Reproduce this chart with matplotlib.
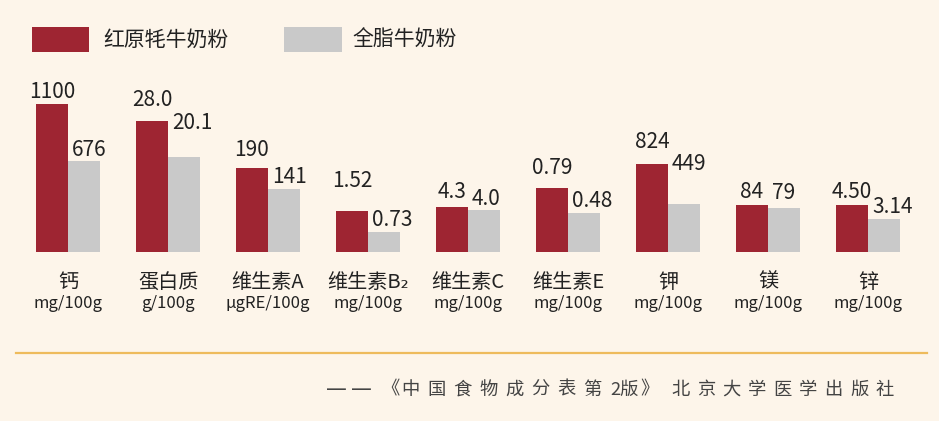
import numpy as np
import matplotlib
matplotlib.use("Agg")
import matplotlib.pyplot as plt
from matplotlib.patches import Rectangle
from matplotlib.lines import Line2D

plt.rcParams['font.family'] = ['Noto Sans CJK SC', 'DejaVu Sans']

# data
nutrients = ["钙", "蛋白质", "维生素A", "维生素B₂", "维生素C", "维生素E", "钾", "镁", "锌"]
units = ["mg/100g", "g/100g", "μgRE/100g", "mg/100g", "mg/100g", "mg/100g", "mg/100g", "mg/100g", "mg/100g"]
yak_milk = [1100, 28.0, 190, 1.52, 4.3, 0.79, 824, 84, 4.50]
whole_milk = [676, 20.1, 141, 0.73, 4.0, 0.48, 449, 79, 3.14]
yak_labels = ["1100", "28.0", "190", "1.52", "4.3", "0.79", "824", "84", "4.50"]
whole_labels = ["676", "20.1", "141", "0.73", "4.0", "0.48", "449", "79", "3.14"]
series_names = ["红原牦牛奶粉", "全脂牛奶粉"]
source = "——《中国食物成分表第2版》北京大学医学出版社"

# each nutrient has its own scale: height of the yak bar in the drawing
group_scale = [148, 131, 84, 40.5, 45, 64, 88, 46.5, 46.5]

RED = "#9E2532"
GREY = "#C9C9C9"
BG = "#FDF5EA"
TXT = "#222222"

W, H = 939, 421
fig = plt.figure(figsize=(W / 100, H / 100), dpi=100, facecolor=BG)
ax = fig.add_axes([18 / W, 0, 900 / W, 1])
ax.set_facecolor(BG)
ax.set_xlim(-0.5, 8.5)
ax.set_ylim(-(H - 251.5), 251.5)
ax.axis("off")

x = np.arange(len(nutrients))
red_h = np.array(group_scale, dtype=float)
grey_h = np.array(whole_milk) / np.array(yak_milk) * red_h
bw = 0.32

ax.bar(x - bw / 2, red_h, width=bw, color=RED)
ax.bar(x + bw / 2, grey_h, width=bw, color=GREY)

# label gaps above the bar tops (px)
red_gap = [6, 15, 12, 24, 9, 13, 15, 7, 7]
grey_gap = [5, 28, 6, 6, 5, 6, 34, 9, 6]
for i in range(len(x)):
    ax.text(x[i] - bw / 2, red_h[i] + red_gap[i], yak_labels[i], ha="center",
            va="baseline", fontsize=15, color=TXT)
    ax.text(x[i] + 0.04, grey_h[i] + grey_gap[i], whole_labels[i], ha="left",
            va="baseline", fontsize=15, color=TXT)
    ax.text(x[i], -30.5, nutrients[i], ha="center", va="center", fontsize=14.5, color=TXT)
    ax.text(x[i], -52, units[i], ha="center", va="center", fontsize=12, color=TXT)

# legend
fy = lambda py: (H - py) / H
fig.add_artist(Rectangle((31.7 / W, fy(52.3)), 57.6 / W, 25.6 / H,
                         transform=fig.transFigure, color=RED, lw=0))
fig.add_artist(Rectangle((284 / W, fy(52.3)), 58.3 / W, 25.6 / H,
                         transform=fig.transFigure, color=GREY, lw=0))
fig.text(103 / W, fy(40), series_names[0], ha="left", va="center", fontsize=15, color=TXT)
fig.text(352 / W, fy(40), series_names[1], ha="left", va="center", fontsize=15, color=TXT)

# footer
fig.add_artist(Line2D([16 / W, 927 / W], [fy(352.7)] * 2, transform=fig.transFigure,
                      color="#EEBB5C", lw=1.6))

src_col = "#444444"
fs = 13.2
yy = fy(389.5)
fig.text(326 / W, yy, source[0], ha="left", va="center", fontsize=15, color=src_col,
         family="DejaVu Sans")
fig.text(351 / W, yy, source[1], ha="left", va="center", fontsize=15, color=src_col,
         family="DejaVu Sans")
fig.text(381 / W, yy, source[2], ha="left", va="center", fontsize=fs, color=src_col)
for k, ch in enumerate(source[3:11]):
    fig.text((401 + 26 * k) / W, yy, ch, ha="left", va="center", fontsize=fs, color=src_col)
fig.text(610 / W, yy, source[11:13], ha="left", va="center", fontsize=fs, color=src_col)
fig.text(640 / W, yy, source[13], ha="left", va="center", fontsize=fs, color=src_col)
for k, ch in enumerate(source[14:]):
    fig.text((671 + 25.6 * k) / W, yy, ch, ha="left", va="center", fontsize=fs, color=src_col)

fig.savefig("out.png", dpi=100, facecolor=BG)
